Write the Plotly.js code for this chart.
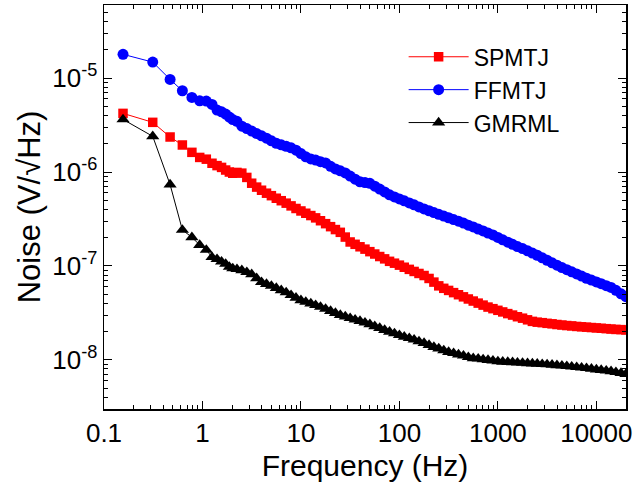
<!DOCTYPE html>
<html>
<head>
<meta charset="utf-8">
<script src="https://cdn.plot.ly/plotly-3.0.1.min.js"></script>
<style>html,body{margin:0;padding:0;background:#fff;}#chart{width:634px;height:491px;}</style>
</head>
<body>
<div id="chart"></div>
<script>
// Frequencies (Hz): first discrete FFT bins, then sampled points along the dense band
const freqEarly = [0.156, 0.3125, 0.469, 0.625, 0.781, 0.9375, 1.094, 1.25, 1.406, 1.5625, 1.72, 1.875, 2.03];
const freqDense = [2.24, 2.51, 2.82, 3.16, 3.55, 3.98, 4.47, 5.01, 5.62, 6.31,
  7.08, 7.94, 8.91, 10, 11.2, 12.6, 14.1, 15.8, 17.8, 20.0,
  22.4, 25.1, 28.2, 31.6, 35.5, 39.8, 44.7, 50.1, 56.2, 63.1,
  70.8, 79.4, 89.1, 100, 112, 126, 141, 158, 178, 200,
  224, 251, 282, 316, 355, 398, 447, 501, 562, 631,
  708, 794, 891, 1000, 1120, 1260, 1410, 1580, 1780, 2000,
  2240, 2510, 2820, 3160, 3550, 3980, 4470, 5010, 5620, 6310,
  7080, 7940, 8910, 10000, 11200, 12600, 14100, 15800, 17800, 19950];

// SPMTJ (red squares), V/sqrt(Hz)
const spmtjEarly = [4.21e-6, 3.38e-6, 2.36e-6, 1.94e-6, 1.62e-6, 1.43e-6, 1.37e-6, 1.24e-6, 1.17e-6, 1.12e-6, 1.05e-6, 1.00e-6, 9.7e-7];
const spmtjDense = [9.90e-7, 9.73e-7, 8.76e-7, 7.60e-7, 6.91e-7, 6.40e-7, 5.95e-7, 5.60e-7, 5.26e-7, 4.95e-7,
  4.66e-7, 4.36e-7, 4.09e-7, 3.85e-7, 3.64e-7, 3.44e-7, 3.25e-7, 3.03e-7, 2.82e-7, 2.62e-7,
  2.44e-7, 2.28e-7, 2.03e-7, 1.80e-7, 1.70e-7, 1.60e-7, 1.51e-7, 1.42e-7, 1.34e-7, 1.26e-7,
  1.19e-7, 1.12e-7, 1.07e-7, 1.02e-7, 9.69e-8, 9.20e-8, 8.74e-8, 8.32e-8, 7.91e-8, 7.36e-8,
  6.73e-8, 6.14e-8, 5.78e-8, 5.49e-8, 5.20e-8, 4.94e-8, 4.69e-8, 4.45e-8, 4.23e-8, 4.02e-8,
  3.83e-8, 3.65e-8, 3.51e-8, 3.37e-8, 3.24e-8, 3.11e-8, 3.00e-8, 2.88e-8, 2.78e-8, 2.67e-8,
  2.57e-8, 2.52e-8, 2.49e-8, 2.45e-8, 2.42e-8, 2.38e-8, 2.35e-8, 2.32e-8, 2.30e-8, 2.27e-8,
  2.25e-8, 2.23e-8, 2.21e-8, 2.19e-8, 2.17e-8, 2.15e-8, 2.13e-8, 2.11e-8, 2.10e-8, 2.08e-8];

// FFMTJ (blue circles)
const ffmtjEarly = [1.79e-5, 1.48e-5, 9.69e-6, 7.33e-6, 6.23e-6, 5.73e-6, 5.69e-6, 5.25e-6, 4.57e-6, 4.38e-6, 4.14e-6, 3.85e-6, 3.62e-6];
const ffmtjDense = [3.47e-6, 3.08e-6, 2.90e-6, 2.73e-6, 2.57e-6, 2.43e-6, 2.29e-6, 2.15e-6, 2.02e-6, 1.95e-6,
  1.88e-6, 1.81e-6, 1.71e-6, 1.57e-6, 1.45e-6, 1.38e-6, 1.34e-6, 1.29e-6, 1.25e-6, 1.15e-6,
  1.08e-6, 1.03e-6, 9.78e-7, 9.06e-7, 8.40e-7, 7.88e-7, 7.73e-7, 7.58e-7, 7.06e-7, 6.58e-7,
  6.14e-7, 5.72e-7, 5.43e-7, 5.17e-7, 4.93e-7, 4.69e-7, 4.47e-7, 4.25e-7, 4.05e-7, 3.87e-7,
  3.70e-7, 3.55e-7, 3.40e-7, 3.26e-7, 3.12e-7, 3.00e-7, 2.86e-7, 2.72e-7, 2.60e-7, 2.47e-7,
  2.36e-7, 2.24e-7, 2.14e-7, 2.01e-7, 1.90e-7, 1.79e-7, 1.70e-7, 1.61e-7, 1.53e-7, 1.45e-7,
  1.37e-7, 1.30e-7, 1.22e-7, 1.15e-7, 1.08e-7, 1.02e-7, 9.62e-8, 9.13e-8, 8.65e-8, 8.22e-8,
  7.81e-8, 7.40e-8, 7.08e-8, 6.76e-8, 6.47e-8, 6.17e-8, 5.91e-8, 5.50e-8, 5.05e-8, 4.71e-8];

// GMRML (black triangles)
const gmrmlEarly = [3.63e-6, 2.40e-6, 7.36e-7, 2.42e-7, 2.02e-7, 1.67e-7, 1.48e-7, 1.24e-7, 1.18e-7, 1.11e-7, 1.05e-7, 9.76e-8, 9.40e-8];
const gmrmlDense = [9.25e-8, 8.98e-8, 8.59e-8, 8.14e-8, 7.38e-8, 6.71e-8, 6.42e-8, 6.13e-8, 5.82e-8, 5.51e-8,
  5.23e-8, 4.89e-8, 4.58e-8, 4.31e-8, 4.14e-8, 3.98e-8, 3.82e-8, 3.66e-8, 3.49e-8, 3.31e-8,
  3.15e-8, 3.00e-8, 2.89e-8, 2.78e-8, 2.68e-8, 2.59e-8, 2.49e-8, 2.39e-8, 2.28e-8, 2.18e-8,
  2.08e-8, 1.99e-8, 1.91e-8, 1.83e-8, 1.76e-8, 1.70e-8, 1.64e-8, 1.57e-8, 1.51e-8, 1.44e-8,
  1.37e-8, 1.32e-8, 1.26e-8, 1.21e-8, 1.18e-8, 1.14e-8, 1.11e-8, 1.07e-8, 1.04e-8, 1.03e-8,
  1.01e-8, 9.95e-9, 9.80e-9, 9.64e-9, 9.55e-9, 9.48e-9, 9.41e-9, 9.34e-9, 9.27e-9, 9.20e-9,
  9.13e-9, 9.07e-9, 9.00e-9, 8.94e-9, 8.87e-9, 8.76e-9, 8.68e-9, 8.57e-9, 8.47e-9, 8.36e-9,
  8.26e-9, 8.16e-9, 8.04e-9, 7.90e-9, 7.79e-9, 7.68e-9, 7.55e-9, 7.40e-9, 7.24e-9, 7.06e-9];

const seriesNames = ['SPMTJ', 'FFMTJ', 'GMRML'];
const xTickVals = [0.1, 1, 10, 100, 1000, 10000];
const xTickText = ['0.1', '1', '10', '100', '1000', '10000'];
const yTickVals = [1e-8, 1e-7, 1e-6, 1e-5];
const yTickText = ['10<sup>-8</sup>', '10<sup>-7</sup>', '10<sup>-6</sup>', '10<sup>-5</sup>'];

const freq = freqEarly.concat(freqDense);
const FONT = 'Liberation Sans, Arial, sans-serif';

function mk(name, y, color, symbol, size) {
  return {
    type: 'scatter', mode: 'lines+markers', name: name,
    x: freq, y: y,
    line: {color: color, width: 1},
    marker: {color: color, symbol: symbol, size: size, line: {width: 0}}
  };
}

const data = [
  mk(seriesNames[0], spmtjEarly.concat(spmtjDense), '#ff0000', 'square', 9.5),
  mk(seriesNames[1], ffmtjEarly.concat(ffmtjDense), '#0000ff', 'circle', 11),
  mk(seriesNames[2], gmrmlEarly.concat(gmrmlDense), '#000000', 'triangle-up', 11.5)
];

const axisCommon = {
  showgrid: false, zeroline: false,
  showline: true, linecolor: '#000', linewidth: 1.5, mirror: 'ticks',
  ticks: 'inside', ticklen: 8, tickwidth: 1, tickcolor: '#000',
  minor: {ticks: 'inside', ticklen: 4, tickwidth: 1, tickcolor: '#000', dtick: 'D1', showgrid: false}
};

const layout = {
  width: 634, height: 491,
  margin: {l: 104, r: 8, t: 5, b: 82},
  paper_bgcolor: '#fff', plot_bgcolor: '#fff',
  font: {family: FONT, color: '#000'},
  showlegend: true,
  legend: {
    x: 0.574, y: 0.925, xanchor: 'left', yanchor: 'top',
    bgcolor: 'rgba(0,0,0,0)', borderwidth: 0, itemwidth: 60,
    tracegroupgap: 0,
    font: {family: FONT, size: 23, color: '#000'}
  },
  xaxis: Object.assign({}, axisCommon, {
    type: 'log', range: [-1, Math.log10(20000)],
    tickmode: 'array', tickvals: xTickVals, ticktext: xTickText,
    tickfont: {family: FONT, size: 26, color: '#000'},
    title: {text: 'Frequency (Hz)', font: {family: FONT, size: 30, color: '#000'}, standoff: 8}
  }),
  yaxis: Object.assign({}, axisCommon, {
    type: 'log', range: [Math.log10(3e-9), Math.log10(6e-5)],
    tickmode: 'array', tickvals: yTickVals, ticktext: yTickText,
    tickfont: {family: FONT, size: 26, color: '#000'},
    title: {text: 'Noise (V/√Hz)', font: {family: FONT, size: 31, color: '#000'}, standoff: 2}
  })
};

Plotly.newPlot('chart', data, layout, {displayModeBar: false, staticPlot: true});
</script>
</body>
</html>
